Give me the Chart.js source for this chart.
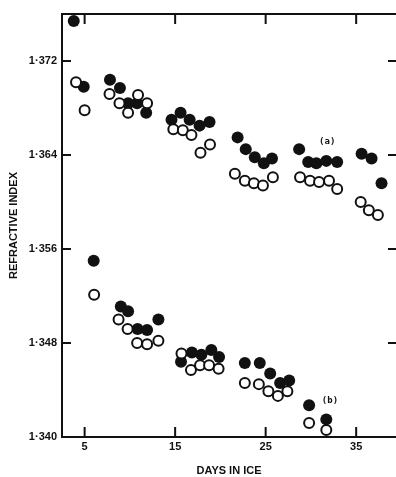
<!DOCTYPE html>
<html>
<head>
<meta charset="utf-8">
<script src="https://cdn.jsdelivr.net/npm/chart.js@4/dist/chart.umd.min.js"></script>
<style>
  html, body { margin: 0; padding: 0; background: #fff; overflow: hidden; }
  canvas { display: block; }
</style>
</head>
<body>
<canvas id="chart" width="396" height="477"></canvas>
<script>
// Refractive index of lens material vs. days stored in ice.
// Two experiments: (a) upper set, (b) lower set. Filled and open circles per set.

const aFilledDays = [3.8, 4.9, 7.8, 8.9, 9.8, 10.8, 11.8, 14.6, 15.6, 16.6, 17.7, 18.8, 21.9, 22.8, 23.8, 24.8, 25.7, 28.7, 29.7, 30.6, 31.7, 32.9, 35.6, 36.7, 37.8];
const aFilledRI   = [1.3754, 1.3698, 1.3704, 1.3697, 1.3684, 1.3684, 1.3676, 1.3670, 1.3676, 1.3670, 1.3665, 1.3668, 1.3655, 1.3645, 1.3638, 1.3633, 1.3637, 1.3645, 1.3634, 1.3633, 1.3635, 1.3634, 1.3641, 1.3637, 1.3616];

const aOpenDays = [4.05, 5.0, 7.75, 8.85, 9.8, 10.9, 11.9, 14.8, 15.85, 16.8, 17.8, 18.85, 21.6, 22.7, 23.7, 24.7, 25.8, 28.8, 29.9, 30.9, 32.0, 32.9, 35.5, 36.4, 37.4];
const aOpenRI   = [1.3702, 1.3678, 1.3692, 1.3684, 1.3676, 1.3691, 1.3684, 1.3662, 1.3661, 1.3657, 1.3642, 1.3649, 1.3624, 1.3618, 1.3616, 1.3614, 1.3621, 1.3621, 1.3618, 1.3617, 1.3618, 1.3611, 1.3600, 1.3593, 1.3589];

const bFilledDays = [6.0, 9.0, 9.8, 10.85, 11.9, 13.15, 15.65, 16.85, 17.9, 19.0, 19.85, 22.7, 24.35, 25.5, 26.6, 27.6, 29.8, 31.7];
const bFilledRI   = [1.3550, 1.3511, 1.3507, 1.3492, 1.3491, 1.3500, 1.3464, 1.3472, 1.3470, 1.3474, 1.3468, 1.3463, 1.3463, 1.3454, 1.3446, 1.3448, 1.3427, 1.3415];

const bOpenDays = [6.05, 8.75, 9.75, 10.8, 11.9, 13.15, 15.7, 16.75, 17.75, 18.75, 19.8, 22.7, 24.25, 25.3, 26.35, 27.4, 29.8, 31.7];
const bOpenRI   = [1.3521, 1.3500, 1.3492, 1.3480, 1.3479, 1.3482, 1.3471, 1.3457, 1.3461, 1.3461, 1.3458, 1.3446, 1.3445, 1.3439, 1.3435, 1.3439, 1.3412, 1.3406];

const xTicks = [5, 15, 25, 35];
const yTicks = [1.340, 1.348, 1.356, 1.364, 1.372];
const yTickLabels = ['1\u00b7340', '1\u00b7348', '1\u00b7356', '1\u00b7364', '1\u00b7372'];

// series tags placed in data space
const seriesTags = [
  { text: '(a)', day: 31.8, ri: 1.3651 },
  { text: '(b)', day: 32.1, ri: 1.3431 }
];

const INK = '#111';

function pairs(xs, ys) { return xs.map((x, i) => ({ x: x, y: ys[i] })); }

const solidStyle = { pointRadius: 6, pointBackgroundColor: INK, pointBorderColor: INK, pointBorderWidth: 0, showLine: false, order: 1 };
const hollowStyle = { pointRadius: 5, pointBackgroundColor: '#fff', pointBorderColor: INK, pointBorderWidth: 2, showLine: false, order: 0 };

// Frame (left, top, bottom; the right side runs past the canvas edge) with inward ticks, plus series tags.
const framePlugin = {
  id: 'frame',
  beforeDatasetsDraw(chart) {
    const { ctx, chartArea: a, scales: { x, y } } = chart;
    ctx.save();
    ctx.strokeStyle = INK;
    ctx.lineWidth = 2;
    ctx.lineCap = 'butt';
    ctx.beginPath();
    ctx.moveTo(a.left, a.top); ctx.lineTo(a.right, a.top);
    ctx.moveTo(a.left, a.bottom); ctx.lineTo(a.right, a.bottom);
    ctx.moveTo(a.left, a.top - 1); ctx.lineTo(a.left, a.bottom + 1);
    x.ticks.forEach(t => {
      const px = x.getPixelForValue(t.value);
      ctx.moveTo(px, a.bottom); ctx.lineTo(px, a.bottom - 10);
      ctx.moveTo(px, a.top); ctx.lineTo(px, a.top + 10);
    });
    y.ticks.forEach(t => {
      const py = y.getPixelForValue(t.value);
      ctx.moveTo(a.left, py); ctx.lineTo(a.left + 9, py);
      ctx.moveTo(a.right, py); ctx.lineTo(a.right - 8, py);
    });
    ctx.stroke();
    ctx.restore();
  },
  afterDatasetsDraw(chart) {
    const { ctx, scales: { x, y } } = chart;
    ctx.save();
    ctx.fillStyle = INK;
    ctx.font = 'bold 9px "DejaVu Sans Mono"';
    ctx.textAlign = 'center';
    ctx.textBaseline = 'middle';
    seriesTags.forEach(tag => {
      ctx.fillText(tag.text, x.getPixelForValue(tag.day), y.getPixelForValue(tag.ri));
    });
    ctx.restore();
  }
};

new Chart(document.getElementById('chart'), {
  type: 'scatter',
  data: {
    datasets: [
      Object.assign({ label: 'a filled', data: pairs(aFilledDays, aFilledRI) }, solidStyle),
      Object.assign({ label: 'b filled', data: pairs(bFilledDays, bFilledRI) }, solidStyle),
      Object.assign({ label: 'a open', data: pairs(aOpenDays, aOpenRI) }, hollowStyle),
      Object.assign({ label: 'b open', data: pairs(bOpenDays, bOpenRI) }, hollowStyle)
    ]
  },
  options: {
    responsive: false,
    animation: false,
    layout: { autoPadding: false, padding: { top: 14, right: 0, left: 0, bottom: 0 } },
    plugins: { legend: { display: false }, tooltip: { enabled: false } },
    scales: {
      x: {
        type: 'linear',
        min: 2.5,
        max: 39.4,
        afterBuildTicks: s => { s.ticks = xTicks.map(v => ({ value: v })); },
        afterFit: s => { s.height = 40; s.paddingLeft = 0; s.paddingRight = 0; },
        grid: { display: false, drawTicks: false },
        border: { display: false },
        ticks: {
          padding: 3,
          color: INK,
          font: { family: '"Liberation Sans", Arial, sans-serif', size: 11, weight: 'bold' },
          callback: v => String(v)
        },
        title: {
          display: true,
          text: 'DAYS IN ICE',
          color: INK,
          padding: { top: 0, bottom: -1 },
          font: { family: '"Liberation Sans", Arial, sans-serif', size: 11, weight: 'bold' }
        }
      },
      y: {
        type: 'linear',
        min: 1.340,
        max: 1.376,
        afterBuildTicks: s => { s.ticks = yTicks.map(v => ({ value: v })); },
        afterFit: s => { s.width = 62; s.paddingTop = 0; s.paddingBottom = 0; },
        grid: { display: false, drawTicks: false },
        border: { display: false },
        ticks: {
          padding: 5,
          color: INK,
          font: { family: '"Liberation Sans", Arial, sans-serif', size: 11, weight: 'bold' },
          callback: (v, i) => yTickLabels[i]
        },
        title: {
          display: true,
          text: 'REFRACTIVE INDEX',
          color: INK,
          padding: { top: 7, bottom: 0 },
          font: { family: '"Liberation Sans", Arial, sans-serif', size: 11, weight: 'bold' }
        }
      }
    }
  },
  plugins: [framePlugin]
});
</script>
</body>
</html>
